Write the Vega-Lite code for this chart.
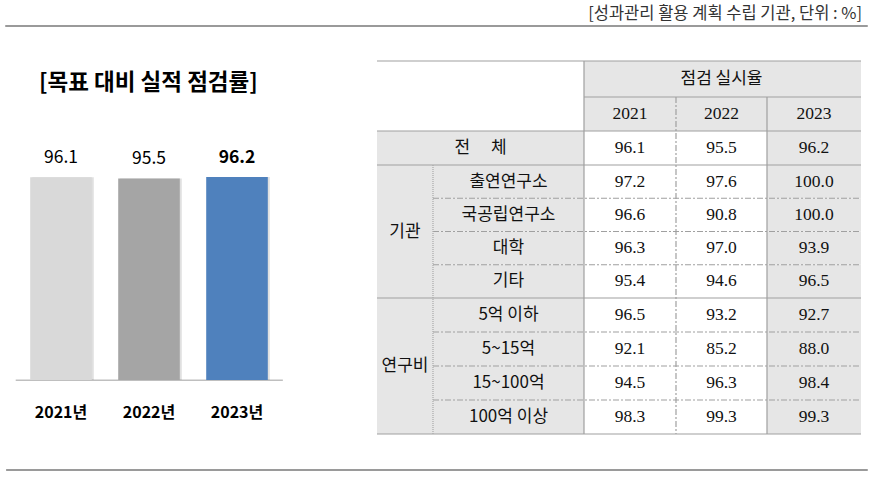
{
  "$schema": "https://vega.github.io/schema/vega-lite/v6.json",
  "width": 873,
  "height": 477,
  "padding": 0,
  "autosize": {"type": "fit", "contains": "padding"},
  "background": "white",
  "config": {"view": {"stroke": null}},
  "datasets": {
    "bars": [
      {"year": "2021년", "value": 96.1, "emph": "n"},
      {"year": "2022년", "value": 95.5, "emph": "n"},
      {"year": "2023년", "value": 96.2, "emph": "y"}
    ],
    "cells": [
      {"c0": 0, "c1": 2, "r0": 0, "r1": 2, "fill": "blank", "label": "", "font": "kr"},
      {"c0": 2, "c1": 5, "r0": 0, "r1": 1, "fill": "head", "label": "점검 실시율", "font": "kr"},
      {"c0": 2, "c1": 3, "r0": 1, "r1": 2, "fill": "head", "label": "2021", "font": "num"},
      {"c0": 3, "c1": 4, "r0": 1, "r1": 2, "fill": "head", "label": "2022", "font": "num"},
      {"c0": 4, "c1": 5, "r0": 1, "r1": 2, "fill": "head", "label": "2023", "font": "num"},
      {"c0": 0, "c1": 2, "r0": 2, "r1": 3, "fill": "head", "label": "전　   체", "font": "kr"},
      {"c0": 2, "c1": 3, "r0": 2, "r1": 3, "fill": "blank", "label": "96.1", "font": "num"},
      {"c0": 3, "c1": 4, "r0": 2, "r1": 3, "fill": "blank", "label": "95.5", "font": "num"},
      {"c0": 4, "c1": 5, "r0": 2, "r1": 3, "fill": "head", "label": "96.2", "font": "num"},
      {"c0": 0, "c1": 1, "r0": 3, "r1": 7, "fill": "head", "label": "기관", "font": "kr"},
      {"c0": 1, "c1": 2, "r0": 3, "r1": 4, "fill": "head", "label": "출연연구소", "font": "kr"},
      {"c0": 2, "c1": 3, "r0": 3, "r1": 4, "fill": "blank", "label": "97.2", "font": "num"},
      {"c0": 3, "c1": 4, "r0": 3, "r1": 4, "fill": "blank", "label": "97.6", "font": "num"},
      {"c0": 4, "c1": 5, "r0": 3, "r1": 4, "fill": "head", "label": "100.0", "font": "num"},
      {"c0": 1, "c1": 2, "r0": 4, "r1": 5, "fill": "head", "label": "국공립연구소", "font": "kr"},
      {"c0": 2, "c1": 3, "r0": 4, "r1": 5, "fill": "blank", "label": "96.6", "font": "num"},
      {"c0": 3, "c1": 4, "r0": 4, "r1": 5, "fill": "blank", "label": "90.8", "font": "num"},
      {"c0": 4, "c1": 5, "r0": 4, "r1": 5, "fill": "head", "label": "100.0", "font": "num"},
      {"c0": 1, "c1": 2, "r0": 5, "r1": 6, "fill": "head", "label": "대학", "font": "kr"},
      {"c0": 2, "c1": 3, "r0": 5, "r1": 6, "fill": "blank", "label": "96.3", "font": "num"},
      {"c0": 3, "c1": 4, "r0": 5, "r1": 6, "fill": "blank", "label": "97.0", "font": "num"},
      {"c0": 4, "c1": 5, "r0": 5, "r1": 6, "fill": "head", "label": "93.9", "font": "num"},
      {"c0": 1, "c1": 2, "r0": 6, "r1": 7, "fill": "head", "label": "기타", "font": "kr"},
      {"c0": 2, "c1": 3, "r0": 6, "r1": 7, "fill": "blank", "label": "95.4", "font": "num"},
      {"c0": 3, "c1": 4, "r0": 6, "r1": 7, "fill": "blank", "label": "94.6", "font": "num"},
      {"c0": 4, "c1": 5, "r0": 6, "r1": 7, "fill": "head", "label": "96.5", "font": "num"},
      {"c0": 0, "c1": 1, "r0": 7, "r1": 11, "fill": "head", "label": "연구비", "font": "kr"},
      {"c0": 1, "c1": 2, "r0": 7, "r1": 8, "fill": "head", "label": "5억 이하", "font": "kr"},
      {"c0": 2, "c1": 3, "r0": 7, "r1": 8, "fill": "blank", "label": "96.5", "font": "num"},
      {"c0": 3, "c1": 4, "r0": 7, "r1": 8, "fill": "blank", "label": "93.2", "font": "num"},
      {"c0": 4, "c1": 5, "r0": 7, "r1": 8, "fill": "head", "label": "92.7", "font": "num"},
      {"c0": 1, "c1": 2, "r0": 8, "r1": 9, "fill": "head", "label": "5~15억", "font": "kr"},
      {"c0": 2, "c1": 3, "r0": 8, "r1": 9, "fill": "blank", "label": "92.1", "font": "num"},
      {"c0": 3, "c1": 4, "r0": 8, "r1": 9, "fill": "blank", "label": "85.2", "font": "num"},
      {"c0": 4, "c1": 5, "r0": 8, "r1": 9, "fill": "head", "label": "88.0", "font": "num"},
      {"c0": 1, "c1": 2, "r0": 9, "r1": 10, "fill": "head", "label": "15~100억", "font": "kr"},
      {"c0": 2, "c1": 3, "r0": 9, "r1": 10, "fill": "blank", "label": "94.5", "font": "num"},
      {"c0": 3, "c1": 4, "r0": 9, "r1": 10, "fill": "blank", "label": "96.3", "font": "num"},
      {"c0": 4, "c1": 5, "r0": 9, "r1": 10, "fill": "head", "label": "98.4", "font": "num"},
      {"c0": 1, "c1": 2, "r0": 10, "r1": 11, "fill": "head", "label": "100억 이상", "font": "kr"},
      {"c0": 2, "c1": 3, "r0": 10, "r1": 11, "fill": "blank", "label": "98.3", "font": "num"},
      {"c0": 3, "c1": 4, "r0": 10, "r1": 11, "fill": "blank", "label": "99.3", "font": "num"},
      {"c0": 4, "c1": 5, "r0": 10, "r1": 11, "fill": "head", "label": "99.3", "font": "num"}
    ],
    "borders": [
      {"a0": 0, "a1": 5, "b0": 0, "b1": 0, "style": "solid"},
      {"a0": 2, "a1": 5, "b0": 1, "b1": 1, "style": "solid"},
      {"a0": 0, "a1": 5, "b0": 2, "b1": 2, "style": "solid"},
      {"a0": 0, "a1": 5, "b0": 3, "b1": 3, "style": "solid"},
      {"a0": 1, "a1": 5, "b0": 4, "b1": 4, "style": "dashdot"},
      {"a0": 1, "a1": 5, "b0": 5, "b1": 5, "style": "dashdot"},
      {"a0": 1, "a1": 5, "b0": 6, "b1": 6, "style": "dashdot"},
      {"a0": 0, "a1": 5, "b0": 7, "b1": 7, "style": "solid"},
      {"a0": 1, "a1": 5, "b0": 8, "b1": 8, "style": "dashdot"},
      {"a0": 1, "a1": 5, "b0": 9, "b1": 9, "style": "dashdot"},
      {"a0": 1, "a1": 5, "b0": 10, "b1": 10, "style": "dashdot"},
      {"a0": 0, "a1": 5, "b0": 11, "b1": 11, "style": "solid"},
      {"a0": 1, "a1": 1, "b0": 3, "b1": 11, "style": "dotted"},
      {"a0": 2, "a1": 2, "b0": 0, "b1": 11, "style": "solid"},
      {"a0": 3, "a1": 3, "b0": 1, "b1": 11, "style": "dashdot"},
      {"a0": 4, "a1": 4, "b0": 1, "b1": 11, "style": "solid"}
    ]
  },
  "layer": [
    {
      "data": {"values": [{"text": "[성과관리 활용 계획 수립 기관, 단위 : %]", "heading": "[목표 대비 실적 점검률]"}]},
      "layer": [
        {
          "mark": {"type": "text", "align": "right", "baseline": "middle", "font": "Noto Sans CJK KR", "fontSize": 16.5, "color": "#333333"},
          "encoding": {
            "x": {"datum": 98.75, "type": "quantitative", "scale": {"domain": [0, 100], "range": [0, 873], "nice": false, "zero": false}, "axis": null},
            "y": {"datum": 2.9, "type": "quantitative", "scale": {"domain": [0, 100], "range": [0, 477], "nice": false, "zero": false}, "axis": null},
            "text": {"field": "text"}
          }
        },
        {
          "mark": {"type": "text", "align": "center", "baseline": "middle", "font": "Noto Sans CJK KR", "fontSize": 22.5, "fontWeight": "bold", "color": "#000000"},
          "encoding": {
            "x": {"datum": 17.0, "type": "quantitative"},
            "y": {"datum": 17.4, "type": "quantitative"},
            "text": {"field": "heading"}
          }
        },
        {
          "mark": {"type": "rule", "color": "#9a9a9a", "strokeWidth": 2},
          "encoding": {
            "x": {"datum": 0.6, "type": "quantitative"},
            "x2": {"datum": 99.4},
            "y": {"datum": 5.45, "type": "quantitative"}
          }
        },
        {
          "mark": {"type": "rule", "color": "#9a9a9a", "strokeWidth": 2},
          "encoding": {
            "x": {"datum": 0.7, "type": "quantitative"},
            "x2": {"datum": 99.4},
            "y": {"datum": 98.55, "type": "quantitative"}
          }
        },
        {
          "mark": {"type": "rule", "color": "#bfbfbf", "strokeWidth": 1.5},
          "encoding": {
            "x": {"datum": 1.8, "type": "quantitative"},
            "x2": {"datum": 32.4},
            "y": {"datum": 79.7, "type": "quantitative"}
          }
        }
      ]
    },
    {
      "data": {"name": "bars"},
      "layer": [
        {
          "mark": {"type": "bar", "color": "#000000", "opacity": 0.12, "xOffset": 2, "yOffset": 0},
          "encoding": {
            "x": {"field": "year", "type": "nominal", "sort": null, "scale": {"domain": ["2021년", "2022년", "2023년"], "range": [17, 281], "paddingInner": 0.3, "paddingOuter": 0.15}, "axis": null},
            "y": {"field": "value", "type": "quantitative", "scale": {"domain": [0, 100], "range": [380, 169], "nice": false, "zero": true}, "axis": null}
          }
        },
        {
          "mark": {"type": "bar"},
          "encoding": {
            "x": {"field": "year", "type": "nominal"},
            "y": {"field": "value", "type": "quantitative"},
            "color": {"field": "year", "type": "nominal", "scale": {"domain": ["2021년", "2022년", "2023년"], "range": ["#D9D9D9", "#A5A5A5", "#4F81BD"]}, "legend": null}
          }
        },
        {
          "transform": [{"filter": "datum.emph == 'n'"}],
          "mark": {"type": "text", "baseline": "bottom", "dy": -10, "font": "Noto Sans CJK KR", "fontSize": 17.5, "color": "#000000"},
          "encoding": {
            "x": {"field": "year", "type": "nominal"},
            "y": {"field": "value", "type": "quantitative"},
            "text": {"field": "value", "type": "quantitative", "format": ".1f"}
          }
        },
        {
          "transform": [{"filter": "datum.emph == 'y'"}],
          "mark": {"type": "text", "baseline": "bottom", "dy": -10, "font": "Noto Sans CJK KR", "fontSize": 17.5, "fontWeight": "bold", "color": "#000000"},
          "encoding": {
            "x": {"field": "year", "type": "nominal"},
            "y": {"field": "value", "type": "quantitative"},
            "text": {"field": "value", "type": "quantitative", "format": ".1f"}
          }
        },
        {
          "mark": {"type": "text", "baseline": "middle", "dy": 33, "font": "Noto Sans CJK KR", "fontSize": 16, "fontWeight": "bold", "color": "#000000"},
          "encoding": {
            "x": {"field": "year", "type": "nominal"},
            "y": {"datum": 0, "type": "quantitative"},
            "text": {"field": "year"}
          }
        }
      ]
    },
    {
      "layer": [
        {
          "data": {"name": "cells"},
          "mark": {"type": "rect", "strokeWidth": 0},
          "encoding": {
            "x": {"field": "c0", "type": "quantitative", "scale": {"domain": [0, 1, 2, 3, 4, 5], "range": [377, 433, 584, 676, 767, 861], "nice": false, "zero": false}, "axis": null},
            "x2": {"field": "c1"},
            "y": {"field": "r0", "type": "quantitative", "scale": {"domain": [0, 1, 2, 3, 7, 11], "range": [61, 97, 131, 165, 298, 434], "nice": false, "zero": false}, "axis": null},
            "y2": {"field": "r1"},
            "fill": {"field": "fill", "type": "nominal", "scale": {"domain": ["blank", "head"], "range": ["#FFFFFF", "#E6E6E6"]}, "legend": null}
          }
        },
        {
          "data": {"name": "borders"},
          "mark": {"type": "rule", "strokeWidth": 1.2},
          "encoding": {
            "x": {"field": "a0", "type": "quantitative"},
            "x2": {"field": "a1"},
            "y": {"field": "b0", "type": "quantitative"},
            "y2": {"field": "b1"},
            "color": {"field": "style", "type": "nominal", "scale": {"domain": ["solid", "dashdot", "dotted"], "range": ["#A0A0A0", "#A0A0A0", "#A8A8A8"]}, "legend": null},
            "strokeDash": {"field": "style", "type": "nominal", "scale": {"domain": ["solid", "dashdot", "dotted"], "range": [[1, 0], [6, 2, 2, 2], [1, 1]]}, "legend": null}
          }
        },
        {
          "data": {"name": "cells"},
          "transform": [
            {"filter": "datum.font == 'kr' && datum.label != '' && !(datum.c0 == 0 && datum.c1 == 2)"},
            {"calculate": "(datum.c0 + datum.c1) / 2", "as": "cm"},
            {"calculate": "(datum.r0 + datum.r1) / 2", "as": "rm"}
          ],
          "mark": {"type": "text", "baseline": "middle", "align": "center", "font": "Noto Sans CJK KR", "fontSize": 17, "color": "#111111"},
          "encoding": {
            "x": {"field": "cm", "type": "quantitative"},
            "y": {"field": "rm", "type": "quantitative"},
            "text": {"field": "label"}
          }
        },
        {
          "data": {"name": "cells"},
          "transform": [
            {"filter": "datum.font == 'kr' && datum.label != '' && datum.c0 == 0 && datum.c1 == 2"},
            {"calculate": "(datum.c0 + datum.c1) / 2", "as": "cm"},
            {"calculate": "(datum.r0 + datum.r1) / 2", "as": "rm"}
          ],
          "mark": {"type": "text", "baseline": "middle", "align": "center", "dx": 47.5, "font": "Noto Sans CJK KR", "fontSize": 17, "color": "#111111"},
          "encoding": {
            "x": {"field": "cm", "type": "quantitative"},
            "y": {"field": "rm", "type": "quantitative"},
            "text": {"field": "label"}
          }
        },
        {
          "data": {"name": "cells"},
          "transform": [
            {"filter": "datum.font == 'num'"},
            {"calculate": "(datum.c0 + datum.c1) / 2", "as": "cm"},
            {"calculate": "(datum.r0 + datum.r1) / 2", "as": "rm"}
          ],
          "mark": {"type": "text", "baseline": "middle", "align": "center", "font": "Liberation Serif", "fontSize": 17.5, "color": "#111111"},
          "encoding": {
            "x": {"field": "cm", "type": "quantitative"},
            "y": {"field": "rm", "type": "quantitative"},
            "text": {"field": "label"}
          }
        }
      ]
    }
  ],
  "resolve": {"scale": {"x": "independent", "y": "independent", "color": "independent"}}
}
